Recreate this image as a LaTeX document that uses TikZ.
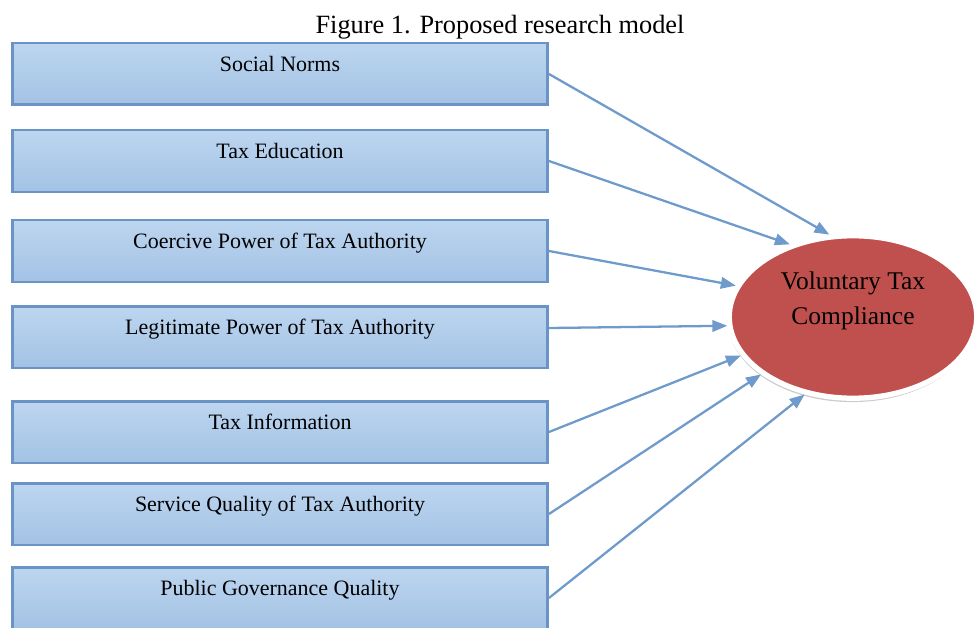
\documentclass[tikz,border=0pt]{standalone}
\usepackage{fontspec}
\setmainfont{Liberation Serif}
\usetikzlibrary{arrows.meta,shapes.geometric,shadows}

\definecolor{boxtop}{HTML}{BDD6F0}
\definecolor{boxbot}{HTML}{A3C2E4}
\definecolor{boxline}{HTML}{6A94C5}
\definecolor{arrowblue}{HTML}{6E9BCB}
\definecolor{outred}{HTML}{C0504D}

\begin{document}
\begin{tikzpicture}[x=0.02cm,y=-0.02cm,
  factor/.style={rectangle,draw=boxline,line width=1.7pt,top color=boxtop,bottom color=boxbot,
    minimum width=10.7cm,minimum height=1.24cm,inner sep=0pt,
    font=\fontsize{12.5}{15}\selectfont,text height=0.31cm,text depth=0.40cm},
  outcome/.style={ellipse,draw=white,line width=3pt,fill=outred,minimum width=4.95cm,minimum height=3.25cm,
    drop shadow={shadow xshift=-0.6pt,shadow yshift=-2.2pt,opacity=0.4}},
  link/.style={arrowblue,line width=1.3pt,-{Triangle[length=0.3cm,width=0.23cm]}}]
\useasboundingbox (0,0) rectangle (976,628);

\node[font=\fontsize{15}{18}\selectfont] (title) at (500,27) {Figure 1. Proposed research model};

% independent variables
\node[factor] (sn) at (280,74) {Social Norms};
\node[factor] (te) at (280,161) {Tax Education};
\node[factor] (cp) at (280,251) {Coercive Power of Tax Authority};
\node[factor] (lp) at (280,337) {Legitimate Power of Tax Authority};
\node[factor] (ti) at (280,432) {Tax Information};
\node[factor] (sq) at (280,514) {Service Quality of Tax Authority};
\node[factor] (pg) at (280,598) {Public Governance Quality};

% dependent variable
\node[outcome] (vtc) at (853,317) {};
\node[align=center,font=\fontsize{14.5}{20}\selectfont] (vtclabel) at (853,301) {Voluntary Tax\\Compliance};

\draw[link] (sn.east) -- (vtc.106);
\draw[link] (te.east) -- (vtc.131);
\draw[link] (cp.east) -- (vtc.165);
\draw[link] ([yshift=0.18cm]lp.east) -- (vtc.184);
\draw[link] (ti.east) -- (vtc.199);
\draw[link] (sq.east) -- (vtc.212);
\draw[link] (pg.east) -- (vtc.238);
\end{tikzpicture}
\end{document}
